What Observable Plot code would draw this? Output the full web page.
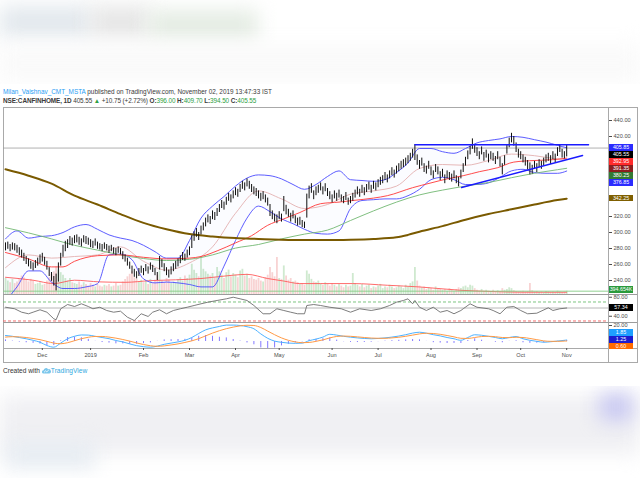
<!DOCTYPE html>
<html><head><meta charset="utf-8">
<script src="https://cdn.jsdelivr.net/npm/d3@7"></script>
<script src="https://cdn.jsdelivr.net/npm/@observablehq/plot@0.6"></script>
<style>
html,body{margin:0;padding:0;background:#fff;}
#wrap{position:relative;width:640px;height:478px;overflow:hidden;font-family:"Liberation Sans",Arial,sans-serif;background:#fff;}
.blob{position:absolute;filter:blur(10px);}
.hdr{position:absolute;left:3px;white-space:nowrap;font-size:6.4px;color:#3a3a3a;line-height:8px;}
.g{color:#2ea043;}
.ln{position:absolute;background:#a9a9a9;}
.lbl{position:absolute;left:609px;width:24px;height:6.6px;line-height:6.6px;font-size:5.3px;color:#fff;text-align:center;}
</style></head><body><div id="wrap"></div>
<script>
// ---------- DATA ----------
const high = [
287,288,285,287,286,284,281,278,274,270,
267,264,262,265,268,272,274,269,264,256,
250,245,248,262,274,284,289,291,295,293,
296,297,294,292,296,295,293,291,289,292,
288,286,285,287,285,283,284,281,280,282,
280,276,272,268,263,258,254,251,255,258,
255,260,257,262,259,255,250,270,266,261,
256,253,257,261,264,267,271,275,273,278,
282,296,301,305,300,308,312,318,322,320,
327,325,330,335,340,338,344,349,347,352,
356,354,360,364,362,367,364,360,357,355,
352,349,351,347,343,335,327,323,322,326,
323,345,334,329,324,327,321,318,319,315,
313,348,358,361,352,357,359,362,357,361,
355,351,347,352,349,353,347,345,350,343,
345,349,353,357,354,359,356,360,363,359,
364,362,366,369,371,375,372,377,381,378,
383,386,389,391,393,396,399,404,409.7,397,
390,393,386,383,389,382,377,385,382,376,
379,372,377,375,373,377,371,369,378,386,
394,402,408,417,410,406,401,407,400,403,
398,401,399,395,401,394,386,396,410,418,
424,420,412,404,401,397,394,390,387,384,
389,386,391,389,393,397,399,396,401,398,
406,410,404,401,409.7];
const low = [
277,279,276,278,277,274,271,268,264,260,
257,254,252,255,258,261,263,259,253,245,
239,233,227,238,258,269,276,280,284,283,
286,287,284,282,287,285,284,281,280,283,
279,278,276,279,277,274,276,273,271,274,
272,266,263,258,254,248,244,242,245,249,
246,251,248,253,250,246,240,253,256,251,
246,243,247,251,254,257,261,265,264,268,
271,280,289,294,290,297,302,307,312,310,
316,315,320,325,330,328,334,339,337,342,
346,344,350,354,352,357,354,350,347,345,
342,339,341,337,333,320,316,313,311,316,
313,326,322,319,313,317,311,308,309,306,
305,318,342,349,341,346,349,352,347,351,
345,341,337,342,339,343,338,336,340,334,
336,339,343,347,344,349,346,350,353,349,
354,352,356,359,361,365,362,367,371,368,
373,376,379,381,383,386,389,393,390,384,
379,383,375,373,379,371,367,375,372,365,
369,361,367,365,363,367,361,357,367,375,
383,391,397,404,399,395,391,397,389,393,
387,391,389,385,391,382,372,384,398,406,
412,408,400,393,391,387,383,378,372,373,
379,375,381,379,383,387,389,385,391,387,
395,400,393,392,394.5];
// volume, millions of shares
const vol = [
1.9,1.6,1.4,1.8,1.3,1.5,1.9,2.2,2.0,1.7,
1.5,1.8,1.6,1.2,1.3,1.4,1.1,1.2,1.6,2.0,
2.4,2.7,3.3,2.9,2.6,2.3,1.9,1.6,1.9,1.4,
1.3,1.2,1.5,1.1,1.4,1.2,1.0,1.3,1.1,0.9,
1.2,1.0,0.9,1.1,1.0,1.2,0.9,1.0,1.3,1.0,
1.1,1.5,1.8,2.1,2.4,2.7,2.0,1.8,1.5,1.7,
1.4,1.6,1.2,1.8,1.3,1.7,2.3,2.8,1.6,1.4,
1.9,1.7,1.3,1.5,1.4,1.8,2.0,1.6,2.2,1.9,
2.3,3.6,2.9,2.5,2.1,4.4,3.0,2.7,2.4,2.2,
2.5,2.0,3.2,2.7,2.3,1.9,2.6,2.9,2.1,2.5,
2.3,2.0,2.8,3.0,2.2,2.4,1.9,2.1,1.8,1.7,
1.9,1.6,1.5,2.0,2.3,3.2,2.6,2.1,4.4,1.9,
1.8,3.4,2.2,1.7,1.9,1.5,1.6,1.4,1.2,1.3,
1.1,2.8,2.4,1.8,1.5,1.4,1.6,1.3,1.1,1.4,
1.2,1.0,1.3,1.1,0.9,1.2,1.0,0.8,1.1,0.9,
1.0,2.5,1.3,1.1,0.9,1.2,0.8,1.0,1.1,0.7,
0.9,0.8,1.0,1.2,0.7,0.9,0.8,1.1,0.9,0.7,
0.8,1.0,0.9,0.7,1.1,0.9,1.3,1.5,3.2,1.6,
1.0,0.8,0.9,0.6,0.8,0.7,0.5,0.9,0.6,0.7,
0.5,0.6,0.4,0.7,0.5,0.4,0.6,0.8,0.7,0.9,
1.0,0.8,1.1,1.0,0.7,0.5,0.4,0.6,0.4,0.5,
0.4,0.35,0.5,0.3,0.45,0.35,0.7,0.5,0.6,0.8,
0.7,0.45,0.35,0.3,0.35,0.4,0.3,0.35,1.3,0.45,
0.3,0.35,0.25,0.3,0.25,0.35,0.3,0.25,0.3,0.25,
0.4,0.3,0.25,0.3,0.394654];
const lastClose = 405.55;

// Bollinger bands (every 5 bars, last bar)
const bbUpper = [292,302,293,295,296,300,307,310,304,297, 293,290,284,276,268,268,290,318,333,345,
 358,368,372,371,367,360,354,360,370,377, 366,365,364,366,375,387,405,405,401,399,
 405,412,415,417,420,419,416,413,409,405.85];
const bbLower = [214,232,252,252,238,230,230,232,236,272, 273,266,242,237,238,237,235,232,232,258,
 290,318,333,326,317,311,304,299,298,302, 330,340,341,342,342,346,354,366,369,366,
 360,360,362,369,377,379,375,374,374,376.85];
// every 10 bars, last bar
const bbBasis = [256,272,268,270,272,282,264,253,262,282,324,352,342,330,335,348,352,358,380,385,384,390,398,396,392,391.35];
const greenMA = [306,299.5,292,284,278,272,267.5,265,266.5,272,280.5,285,292,298,303,315,327,338,347,353,358,362.5,368.5,374,378.5,380.25];
const redIdx = [0,10,20,25,30,40,50,60,70,80,85,92,100,107,114,121,128,137,145,151,160,166,177,185,192,199,206,214,221,230,238,244];
const redMA  = [275,267,257,257,264,271,272,269,267,268,270,277,287,296,309,317,325,336,338,340,343,346,356,362,367,371,376,381,388,390,391,392.95];
const oliveIdx = [0,10,20,30,40,50,60,70,80,90,100,110,120,130,140,150,160,170,175,180,190,200,210,220,230,240,244];
const oliveMA  = [379,371,361,346,335,323,312,304,298,295,293,292,291,290.5,290.5,291,292,294,297,301,308,316,323,329,335,340.5,342.25];
const volMaIdx = [0,12,21,30,41,52,63,74,85,99,105,114,121,128,137,151,166,180,198,212,224,244];
const volMA    = [2.05,1.7,1.3,1.7,1.5,1.45,1.65,1.75,1.9,2.3,2.4,1.9,1.6,1.3,1.3,1.3,1.1,0.9,0.5,0.35,0.28,0.27];

const rsiIdx = [0,4,7,10,12,15,18,21,22,24,27,30,33,36,38,41,44,47,50,53,56,59,62,64,67,70,73,76,79,82,85,88,92,96,99,102,105,108,112,115,118,121,124,127,130,131,134,137,141,146,150,154,159,163,167,170,173,175,177,178,180,183,186,189,192,195,198,199,202,205,210,212,215,218,221,224,227,231,236,238,241,244];
const rsiVal = [59,55.7,48.5,45.2,48.5,53.6,48.5,34.6,32.5,55.7,64.7,60.5,66.2,60.5,55.7,59,52.1,48.5,50.6,38,31,45.2,39.5,48.5,53.6,45.2,52.1,55.7,59,62.6,66.2,69.6,73.2,76.7,80.1,76.7,73.2,62.6,45.2,45.2,55.7,52.1,48.5,45.2,45.2,62.6,64.7,62.6,59,55.7,48.5,55.7,52.1,55.7,62.6,69.6,73.2,76.7,66.2,73.2,59,52.1,59,48.5,52.1,45.2,52.1,55.7,66.2,59,55.7,52.1,45.2,59,60.5,52.1,45.2,46.4,57.8,52.1,55.7,57.34];
const rsiLevels = {upper: 70, lower: 30};

// MACD (every 3 bars, last bar)
const macdLine = [7.5,6.5,5.0,3.4,1.5,-0.9,-5.0,-7.1,-2.0,3.5, 6.5,8.2,8.0,6.5,5.0,3.5,1.25,-0.5,-3.0,-5.2,
 -6.5,-7.1,-5.8,-3.5,-2.0,-0.5,1.5,5.0,10.0,14.5, 17.0,18.8,20.5,20.5,20.0,18.5,15.9,9.5,4.0,0.5,
 -1.0,-2.0,-2.3,-2.0,1.0,3.0,5.5,9.0,8.0,6.5, 5.4,4.5,3.8,3.4,3.8,4.5,5.5,6.8,8.5,10.5,
 11.6,10.4,8.5,7.0,5.0,3.4,1.5,5.0,8.4,7.8, 6.5,5.0,3.4,5.0,6.2,3.4,1.5,0.2,-0.9,-0.3, 0.5,1.5,1.85];
const signalLine = [5.5,6.0,5.8,5.0,3.8,2.3,0.2,-2.0,-2.8,-1.5, 1.0,3.5,5.3,6.3,6.3,5.5,4.2,2.5,0.5,-1.8,
 -3.8,-5.3,-6.0,-5.5,-4.3,-3.0,-1.2,0.8,3.5,7.0, 10.5,13.5,16.0,18.0,19.5,20.3,20.0,17.5,13.0,8.5,
 4.5,1.5,-0.5,-1.5,-1.2,0.2,2.0,4.5,6.3,6.8, 6.5,5.8,5.0,4.3,4.0,4.0,4.5,5.3,6.5,8.0,
 9.5,10.3,10.0,9.0,7.5,5.8,4.0,3.8,5.0,6.2, 6.5,6.0,5.0,4.8,5.3,5.0,3.8,2.3,0.8,0.2, 0.2,0.5,0.60];

// drawn trend lines (bar index, price)
const trendTop  = [{i: 178, v: 409.7}, {i: 253.5, v: 409.7}];
const trendRise = [{i: 198.3, v: 356.3}, {i: 250.9, v: 396.2}];

// axis ticks (the ones not hidden behind last-value labels)
const priceTicks = [240,260,280,300,320,420,440];
const rsiTicks = [40, 80];
const macdTicks = [20];
const monthLabels = ["Dec","2019","Feb","Mar","Apr","May","Jun","Jul","Aug","Sep","Oct","Nov"];
const monthIdx = [16,37,60,80,100,119,142,162,185,205,224,244];

// ---------- LAYOUT ----------
const wrap = document.getElementById("wrap");
function add(tag, cls, css, html) {
  const e = document.createElement(tag);
  if (cls) e.className = cls;
  Object.assign(e.style, css);
  if (html != null) e.innerHTML = html;
  wrap.appendChild(e);
  return e;
}
// blurred page backdrop
[[0,6,92,32,"#e2e8ed"],[90,6,60,32,"#e6e6e6"],[148,10,110,30,"#e4ece3"],[0,44,640,38,"#fafafa"],
 [0,396,640,58,"#f0f0f3"],[600,394,32,26,"#c5c5f2"],[5,442,90,26,"#e6ecf2"]]
 .forEach(([l,t,w,h,c]) => add("div","blob",{left:l+"px",top:t+"px",width:w+"px",height:h+"px",background:c}));
add("div", null, {position:"absolute",left:"0px",top:"84px",width:"640px",height:"302px",background:"#fff"});

add("div","hdr",{top:"87.5px"},'<span style="color:#2a9df4">Milan_Vaishnav_CMT_MSTA</span> published on TradingView.com, November 02, 2019 13:47:33 IST');
add("div","hdr",{top:"96.5px",letterSpacing:"-0.1px"},'<b>NSE:CANFINHOME, 1D</b> 405.55 <span class="g">▲</span> +10.75 (+2.72%) <b>O:</b><span class="g">396.00</span> <b>H:</b><span class="g">409.70</span> <b>L:</b><span class="g">394.50</span> <b>C:</b><span class="g">405.55</span>');
add("div","hdr",{top:"367px",fontSize:"6.6px",color:"#333"},'Created with <svg width="9" height="7" viewBox="0 0 9 7" style="vertical-align:-1px"><path d="M1.5 6.5 A1.6 1.6 0 0 1 1.6 3.3 A2.4 2.4 0 0 1 6 2.2 A1.9 1.9 0 0 1 7.4 6.5 Z" fill="#7cc7ec"/><path d="M2 5.3 L3.6 3.8 L4.8 4.8 L6.8 3" stroke="#fff" stroke-width="0.8" fill="none"/></svg><span style="color:#2fa8e0">TradingView</span>');

// frame
const L = 3, R = 637, T = 107, B = 362, AX = 608;
add("div","ln",{left:L+"px",top:T+"px",width:(R-L)+"px",height:"1px"});
add("div","ln",{left:L+"px",top:B+"px",width:(R-L)+"px",height:"1px"});
add("div","ln",{left:L+"px",top:T+"px",width:"1px",height:(B-T)+"px"});
add("div","ln",{left:R+"px",top:T+"px",width:"1px",height:(B-T+1)+"px"});
add("div","ln",{left:AX+"px",top:T+"px",width:"1px",height:(B-T)+"px"});
[294,322].forEach(y => add("div","ln",{left:L+"px",top:(y-0.5)+"px",width:(R-L)+"px",height:"1.5px",background:"#9c9c9c"}));
add("div","ln",{left:L+"px",top:"348px",width:(R-L)+"px",height:"1px"});

// ---------- PLOTS ----------
const n = high.length;
const firstBarPx = 5, barStep = 2.3;
const xScale = {domain: [0, n - 1], range: [firstBarPx, firstBarPx + barStep * (n - 1)]};
const bars = d3.range(n).map(i => ({i, hi: high[i], lo: low[i], vol: vol[i],
  up: i === 0 || high[i] + low[i] >= high[i-1] + low[i-1]}));
const idx5 = d3.range(0, n - 3, 5).concat([n - 1]);
const idx10 = d3.range(0, n - 3, 10).concat([n - 1]);
const idx3 = d3.range(0, n - 1, 3).concat([n - 1]);
const bbRows = idx5.map((i, k) => ({i, up: bbUpper[k], lo: bbLower[k]}));
const basisRows = idx10.map((i, k) => ({i, v: bbBasis[k]}));
const greenRows = idx10.map((i, k) => ({i, v: greenMA[k]}));
const redRows = redIdx.map((i, k) => ({i, v: redMA[k]}));
const oliveRows = oliveIdx.map((i, k) => ({i, v: oliveMA[k]}));
const volMaRows = volMaIdx.map((i, k) => ({i, v: volMA[k]}));
const rsiRows = rsiIdx.map((i, k) => ({i, v: rsiVal[k]}));
const macdRows = idx3.map((i, k) => ({i, m: macdLine[k], s: signalLine[k], h: macdLine[k] - signalLine[k]}));

const baseStyle = {background: "transparent", fontSize: "5.6px", fontFamily: "Liberation Sans, Arial, sans-serif", color: "#4d4d4d", overflow: "visible"};
const paneMargins = {marginLeft: L, marginRight: 640 - AX, marginTop: 0};
function place(svg, top) { svg.style.position = "absolute"; svg.style.left = "0px"; svg.style.top = top + "px"; wrap.appendChild(svg); return svg; }
const curve = "monotone-x";

// volume overlay (below price)
const volPlot = place(Plot.plot({
  width: 640, height: 187, ...paneMargins, marginBottom: 0, style: baseStyle,
  x: {...xScale, axis: null}, y: {domain: [0, 22.26], axis: null},
  marks: [
    Plot.ruleX(bars, {filter: d => d.up, x: "i", y1: 0, y2: "vol", stroke: "#9fd4a0", strokeOpacity: 0.5, strokeWidth: 1.8, clip: true}),
    Plot.ruleX(bars, {filter: d => !d.up, x: "i", y1: 0, y2: "vol", stroke: "#f2a8a8", strokeOpacity: 0.5, strokeWidth: 1.8, clip: true}),
    Plot.line(volMaRows, {x: "i", y: "v", stroke: "#ff5a5a", strokeWidth: 0.9, curve, clip: true}),
    Plot.ruleY([vol[n - 1]], {stroke: "#86cc86", strokeWidth: 0.9})
  ]
}), T);

// price pane
const priceDomain = [222.5, 456.25];
const mainPlot = place(Plot.plot({
  width: 640, height: 187, ...paneMargins, marginBottom: 0, style: baseStyle,
  x: {...xScale, axis: null},
  y: {domain: priceDomain, axis: "right", ticks: priceTicks, tickFormat: d => d.toFixed(2), tickSize: 3, tickPadding: 2, label: null},
  marks: [
    Plot.ruleY([lastClose], {stroke: "#9c9c9c", strokeWidth: 0.8}),
    Plot.areaY(bbRows, {x: "i", y1: "lo", y2: "up", fill: "#3d5afe", fillOpacity: 0.02, curve, clip: true}),
    Plot.line(basisRows, {x: "i", y: "v", stroke: "#e3b0b0", strokeWidth: 0.9, curve, clip: true}),
    Plot.line(bbRows, {x: "i", y: "up", stroke: "#4b4bff", strokeWidth: 0.9, curve, clip: true}),
    Plot.line(bbRows, {x: "i", y: "lo", stroke: "#4b4bff", strokeWidth: 0.9, curve, clip: true}),
    Plot.line(greenRows, {x: "i", y: "v", stroke: "#72b872", strokeWidth: 0.9, curve, clip: true}),
    Plot.line(redRows, {x: "i", y: "v", stroke: "#ff3838", strokeWidth: 0.9, curve, clip: true}),
    Plot.line(oliveRows, {x: "i", y: "v", stroke: "#7a5a00", strokeWidth: 2, curve, clip: true}),
    Plot.ruleX(bars, {x: "i", y1: "lo", y2: "hi", stroke: "#111", strokeWidth: 1, clip: true}),
    Plot.line(trendTop, {x: "i", y: "v", stroke: "#1a1aff", strokeWidth: 1.4, clip: true}),
    Plot.line(trendRise, {x: "i", y: "v", stroke: "#1a1aff", strokeWidth: 1.4, clip: true})
  ]
}), T);

// RSI pane
const rsiPlot = place(Plot.plot({
  width: 640, height: 28, ...paneMargins, marginBottom: 0, style: baseStyle,
  x: {...xScale, axis: null},
  y: {domain: [26.8, 85.8], axis: "right", ticks: rsiTicks, tickFormat: d => d.toFixed(2), tickSize: 3, tickPadding: 2, label: null},
  marks: [
    Plot.ruleY([rsiLevels.upper], {stroke: "#6fbf73", strokeDasharray: "3,2", strokeWidth: 0.9}),
    Plot.ruleY([rsiLevels.lower], {stroke: "#f06060", strokeDasharray: "3,2", strokeWidth: 0.9}),
    Plot.ruleY([rsiVal[rsiVal.length - 1]], {stroke: "#b0b0b0", strokeWidth: 0.9}),
    Plot.line(rsiRows, {x: "i", y: "v", stroke: "#6e6e6e", strokeWidth: 0.9, clip: true})
  ]
}), 294);

// MACD pane + date axis
const macdPlot = place(Plot.plot({
  width: 640, height: 40, ...paneMargins, marginBottom: 14, style: baseStyle,
  x: {...xScale, axis: "bottom", ticks: monthIdx, tickFormat: d => monthLabels[monthIdx.indexOf(d)], tickSize: 2, tickPadding: 3, label: null},
  y: {domain: [-8.75, 23.75], axis: "right", ticks: macdTicks, tickFormat: d => d.toFixed(2), tickSize: 3, tickPadding: 2, label: null},
  marks: [
    Plot.ruleX(macdRows, {x: "i", y1: 0, y2: "h", stroke: "#5a4cff", strokeOpacity: 0.75, strokeWidth: 1, clip: true}),
    Plot.line(macdRows, {x: "i", y: "m", stroke: "#4db2ff", strokeWidth: 1, curve, clip: true}),
    Plot.line(macdRows, {x: "i", y: "s", stroke: "#ff9a45", strokeWidth: 1, curve, clip: true})
  ]
}), 322);

// ---------- LAST-VALUE LABELS ----------
function yOf(plot, v) { const s = plot.scale("y"); return s.apply ? s.apply(v) : d3.scaleLinear(s.domain, s.range)(v); }
function stack(items, gap, maxY) {
  const s = items.slice().sort((a, b) => a.y - b.y);
  let prev = -Infinity;
  for (const it of s) { it.py = Math.max(it.y, prev + gap); prev = it.py; }
  let next = Infinity;
  for (let k = s.length - 1; k >= 0; k--) { const lim = Math.min(maxY, next - gap); if (s[k].py > lim) s[k].py = lim; next = s[k].py; }
  return s;
}
function drawLabels(items) {
  items.forEach(it => add("div", "lbl", {top: (it.py - 3.3) + "px", background: it.bg}, it.t));
}
const mainLabels = [
  {v: bbUpper[bbUpper.length - 1], bg: "#2b2bff"},
  {v: lastClose, bg: "#000"},
  {v: redMA[redMA.length - 1], bg: "#ff2b2b"},
  {v: bbBasis[bbBasis.length - 1], bg: "#8c1f1f"},
  {v: greenMA[greenMA.length - 1], bg: "#337a33"},
  {v: bbLower[bbLower.length - 1], bg: "#2b2bff"},
  {v: oliveMA[oliveMA.length - 1], bg: "#7f5f00"}
].map(d => ({...d, t: d.v.toFixed(2), y: T + yOf(mainPlot, d.v)}));
mainLabels.push({t: (vol[n - 1] * 1000).toFixed(3) + "K", bg: "#2a9a3c", y: T + yOf(volPlot, vol[n - 1])});
drawLabels(stack(mainLabels, 7, 289.5));

const rsiLast = rsiVal[rsiVal.length - 1];
drawLabels(stack([{t: rsiLast.toFixed(2), bg: "#000", y: 294 + yOf(rsiPlot, rsiLast)}], 7, 318));

const mLast = macdRows[macdRows.length - 1];
drawLabels(stack([
  {t: mLast.m.toFixed(2), bg: "#1e9fff", y: 322 + yOf(macdPlot, mLast.m)},
  {t: mLast.h.toFixed(2), bg: "#1c1ccf", y: 322 + yOf(macdPlot, mLast.h)},
  {t: mLast.s.toFixed(2), bg: "#ff6a00", y: 322 + yOf(macdPlot, mLast.s)}
], 6.7, 346));
</script></body></html>
